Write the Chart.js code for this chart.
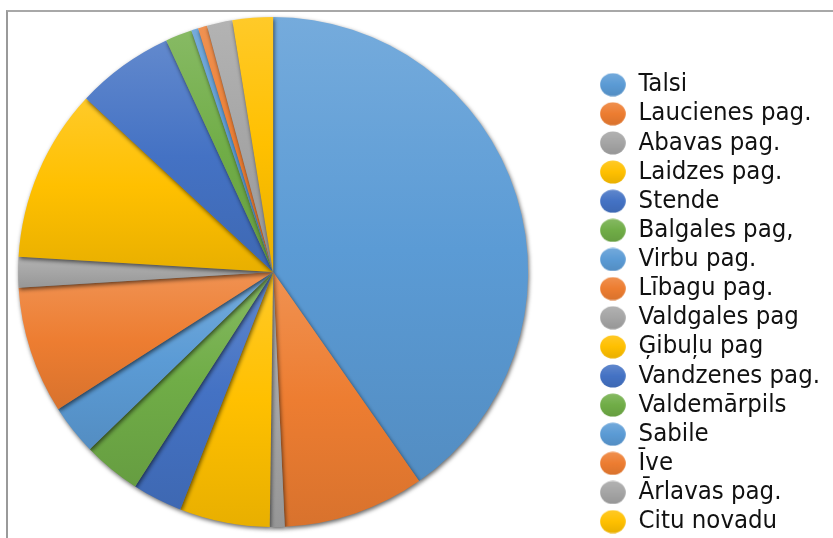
<!DOCTYPE html>
<html>
<head>
<meta charset="utf-8">
<script src="https://cdn.jsdelivr.net/npm/chart.js@4.4.0/dist/chart.umd.min.js"></script>
<style>
  html, body { margin: 0; padding: 0; background: #fff; }
  #wrap { position: relative; width: 833px; height: 538px; overflow: hidden; }
  #frame { position: absolute; left: 6px; top: 10px; width: 900px; height: 600px;
           border-top: 2px solid #a8a8a8; border-left: 2px solid #9a9a9a; }
  /* canvas sticks out on the left so the pie sits left of its chart area centre */
  canvas { position: absolute; left: -50px; top: 0; }
</style>
</head>
<body>
<div id="wrap">
  <div id="frame"></div>
  <canvas id="chart" width="883" height="538"></canvas>
</div>
<script>
// share of each place, %
const places = ['Talsi', 'Laucienes pag.', 'Abavas pag.', 'Laidzes pag.', 'Stende', 'Balgales pag,',
  'Virbu pag.', 'Lībagu pag.', 'Valdgales pag', 'Ģibuļu pag', 'Vandzenes pag.', 'Valdemārpils',
  'Sabile', 'Īve', 'Ārlavas pag.', 'Citu novadu'];
const shares = [40.3, 8.97, 0.94, 5.72, 3.17, 3.67, 3.19, 8.06, 1.94, 10.94, 6.22, 1.69, 0.44, 0.58, 1.61, 2.56];
const sliceColors = ['#5B9BD5', '#ED7D31', '#A5A5A5', '#FFC000', '#4472C4', '#70AD47'];
const pieRadius = 255;

function shade(hex, amt) { // amt > 0 towards white, < 0 towards black
  const n = parseInt(hex.slice(1), 16);
  const t = amt < 0 ? 0 : 255, p = Math.abs(amt);
  const r = Math.round((n >> 16) + (t - (n >> 16)) * p);
  const g = Math.round(((n >> 8) & 255) + (t - ((n >> 8) & 255)) * p);
  const b = Math.round((n & 255) + (t - (n & 255)) * p);
  return `rgb(${r},${g},${b})`;
}

function colorOf(i) { return sliceColors[i % sliceColors.length]; }

// excel-like gradient, top of each slice lighter than the bottom
function sliceFill(context) {
  const chart = context.chart, area = chart.chartArea, i = context.dataIndex;
  const base = colorOf(i);
  if (!area) return base;
  const total = shares.reduce((a, b) => a + b, 0);
  let before = 0;
  for (let k = 0; k < i; k++) before += shares[k];
  const a0 = -Math.PI / 2 + before / total * 2 * Math.PI;
  const a1 = a0 + shares[i] / total * 2 * Math.PI;
  const cy = (area.top + area.bottom) / 2;
  const ys = [cy, cy + pieRadius * Math.sin(a0), cy + pieRadius * Math.sin(a1)];
  [-Math.PI / 2, Math.PI / 2, 3 * Math.PI / 2].forEach(a => { if (a > a0 && a < a1) ys.push(cy + pieRadius * Math.sin(a)); });
  const top = Math.min(...ys), bot = Math.max(...ys);
  const g = chart.ctx.createLinearGradient(0, top, 0, bot + 1);
  g.addColorStop(0, shade(base, 0.16));
  g.addColorStop(0.5, base);
  g.addColorStop(1, shade(base, -0.09));
  return g;
}

function makeDot(base) {
  const c = document.createElement('canvas');
  c.width = 26; c.height = 24;
  const x = c.getContext('2d');
  const g = x.createLinearGradient(0, 0, 0, 24);
  g.addColorStop(0, shade(base, 0.16));
  g.addColorStop(0.5, base);
  g.addColorStop(1, shade(base, -0.09));
  x.fillStyle = g;
  x.beginPath();
  x.ellipse(13, 12, 12.8, 11.5, 0, 0, Math.PI * 2);
  x.fill();
  return c;
}
const dots = places.map((p, i) => makeDot(colorOf(i)));

const shadow = {
  id: 'shadow',
  beforeDatasetsDraw(chart) {
    const c = chart.ctx;
    c.save();
    c.shadowColor = 'rgba(0,0,0,0.6)';
    c.shadowBlur = 4;
    c.shadowOffsetX = 1;
    c.shadowOffsetY = 2;
  },
  afterDatasetsDraw(chart) { chart.ctx.restore(); }
};

new Chart(document.getElementById('chart'), {
  type: 'pie',
  data: {
    labels: places,
    datasets: [{
      data: shares,
      backgroundColor: sliceFill,
      borderWidth: 0,
      radius: pieRadius
    }]
  },
  options: {
    responsive: false,
    animation: false,
    layout: { padding: { left: 0, right: 3, top: 6, bottom: 0 } },
    plugins: {
      tooltip: { enabled: false },
      legend: {
        position: 'right',
        align: 'end',
        labels: {
          usePointStyle: true,
          pointStyleWidth: 26,
          boxHeight: 17,
          padding: 3.63,
          color: '#111',
          font: { family: "'DejaVu Sans Condensed', 'DejaVu Sans', sans-serif", size: 25.5 },
          generateLabels(chart) {
            const items = Chart.overrides.pie.plugins.legend.labels.generateLabels(chart);
            items.forEach((it, i) => { it.pointStyle = dots[i]; });
            return items;
          }
        }
      }
    }
  },
  plugins: [shadow]
});
</script>
</body>
</html>
